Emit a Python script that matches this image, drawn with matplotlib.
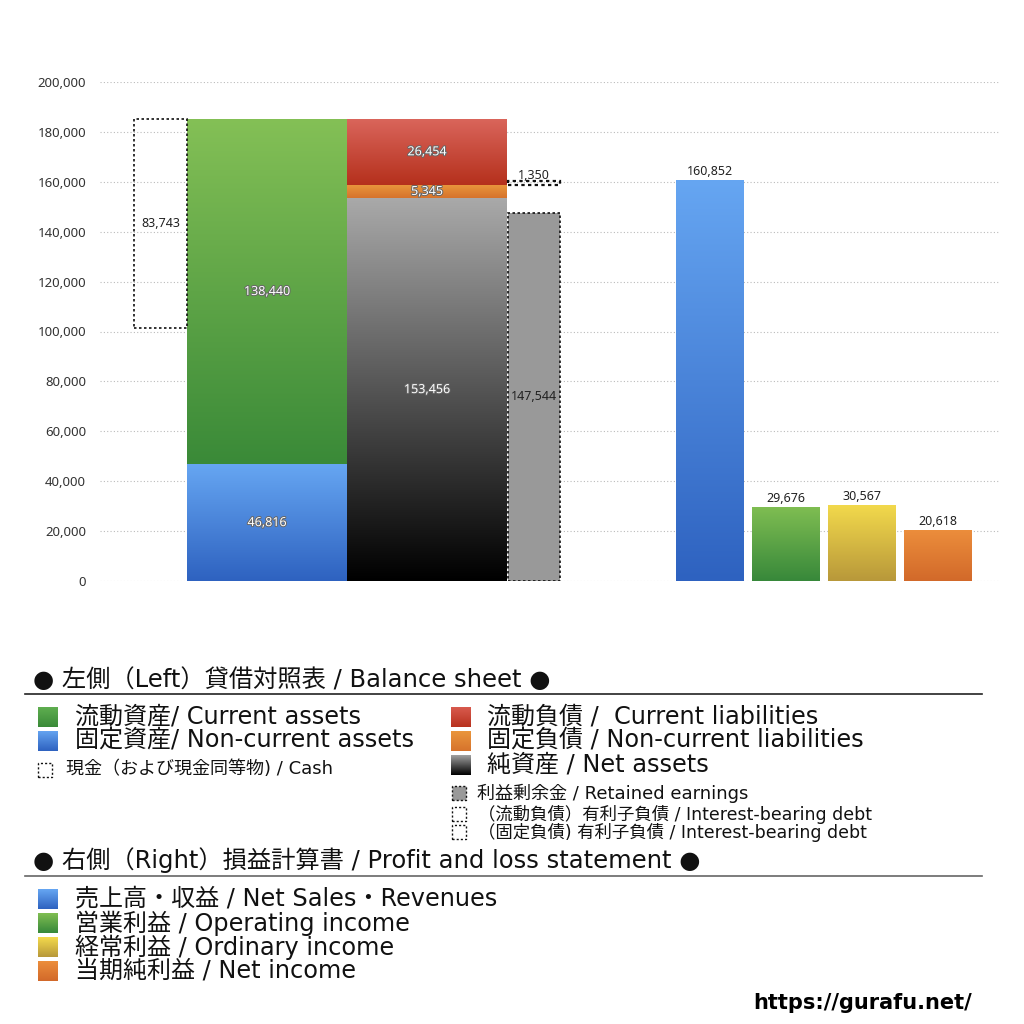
import matplotlib
matplotlib.use("Agg")
import matplotlib.pyplot as plt
import numpy as np
from matplotlib.colors import LinearSegmentedColormap
from matplotlib.patches import Rectangle
import matplotlib.patheffects as pe

plt.rcParams['font.family'] = ['DejaVu Sans', 'Noto Sans CJK JP']

# --- data (balance sheet, left side) ---
non_current_assets = 46816
current_assets = 138440
cash = 83743
net_assets = 153456
non_current_liab = 5345
current_liab = 26454
debt_current = 1350
retained_earnings = 147544

# --- data (profit and loss, right side) ---
pl_names = ["売上高・収益", "営業利益", "経常利益", "当期純利益"]
pl_values = [160852, 29676, 30567, 20618]
pl_top = ["#66a6f2", "#80be52", "#f3da4c", "#ec8e3c"]
pl_bot = ["#2e62c0", "#37883a", "#b8983a", "#d2692a"]

W = 10.24
fig = plt.figure(figsize=(W, W), dpi=100)


def fx(px):
    return px / 1024.0


def fy(py):
    return 1 - py / 1024.0


ax = fig.add_axes([fx(100), fy(581), fx(900), fy(82) - fy(581)])
ax.set_xlim(100, 1000)
ax.set_ylim(0, 200000)
for s in ax.spines.values():
    s.set_visible(False)
ax.tick_params(axis='both', length=0)
ax.set_xticks([])
yt = np.arange(0, 200001, 20000)
ax.set_yticks(yt)
ax.set_yticklabels(["{:,}".format(v) for v in yt], fontsize=9.5, color="#333333",
                   family=['Noto Sans', 'DejaVu Sans'])
ax.tick_params(axis='y', pad=10)
for v in yt:
    ax.axhline(v, color="#bbbbbb", lw=0.8, ls=(0, (1, 2)), zorder=0)


def grad_bar(x, bottom, height, width, c_top, c_bot):
    bars = ax.bar(x, height, width=width, bottom=bottom, align='edge',
                  color='none', edgecolor='none', zorder=2)
    p = bars[0]
    cmap = LinearSegmentedColormap.from_list("g", [c_bot, c_top])
    grad = np.linspace(0, 1, 256).reshape(-1, 1)
    im = ax.imshow(grad, extent=[x, x + width, bottom, bottom + height],
                   origin='lower', aspect='auto', cmap=cmap, zorder=2)
    im.set_clip_path(p)
    return p


def dotted_box(x, bottom, height, width, face='none', lw=1.2):
    ax.bar(x, height, width=width, bottom=bottom, align='edge',
           facecolor=face, edgecolor='#111111', lw=lw, ls=(0, (1.5, 1.5)), zorder=3)


def inner_label(x, y, s):
    ax.text(x, y, s, ha='center', va='center', fontsize=9, color='white',
            family=['Noto Sans', 'DejaVu Sans'], zorder=5,
            path_effects=[pe.withStroke(linewidth=1.4, foreground='#666666')])


def outer_label(x, y, s, va='bottom'):
    ax.text(x, y, s, ha='center', va=va, fontsize=9, color='#222222',
            family=['Noto Sans', 'DejaVu Sans'], zorder=5)


total_assets = non_current_assets + current_assets

# cash box at top of current assets
dotted_box(134, total_assets - cash, cash, 53)
outer_label(160.5, total_assets - cash / 2, "{:,}".format(cash), va='center')

# assets
grad_bar(187, 0, non_current_assets, 160, "#66a6f2", "#2e62c0")
grad_bar(187, non_current_assets, current_assets, 160, "#84c056", "#3a8a38")
inner_label(267, non_current_assets / 2, "{:,}".format(non_current_assets))
inner_label(267, non_current_assets + current_assets / 2, "{:,}".format(current_assets))

# liabilities and net assets
grad_bar(347, 0, net_assets, 160, "#a9a9a9", "#000000")
grad_bar(347, net_assets, non_current_liab, 160, "#ea973c", "#d6732c")
grad_bar(347, net_assets + non_current_liab, current_liab, 160, "#da665c", "#b5301c")
inner_label(427, net_assets / 2, "{:,}".format(net_assets))
inner_label(427, net_assets + non_current_liab / 2, "{:,}".format(non_current_liab))
inner_label(427, net_assets + non_current_liab + current_liab / 2, "{:,}".format(current_liab))

# retained earnings
dotted_box(508, 0, retained_earnings, 52, face='#999999')
outer_label(534, retained_earnings / 2, "{:,}".format(retained_earnings), va='center')

# interest-bearing debt (current)
dotted_box(508, net_assets + non_current_liab, debt_current, 52, lw=1.6)
outer_label(534, net_assets + non_current_liab + debt_current - 200, "{:,}".format(debt_current))

# profit and loss bars
pl_x = [676, 752, 828, 904]
for i in range(len(pl_values)):
    grad_bar(pl_x[i], 0, pl_values[i], 68, pl_top[i], pl_bot[i])
    outer_label(pl_x[i] + 34, pl_values[i] + 600, "{:,}".format(pl_values[i]))

ax.set_xlim(100, 1000)
ax.set_ylim(0, 200000)


# --- legend area ---
def legend_sq(px0, py0, size, c_top, c_bot):
    lax = fig.add_axes([fx(px0), fy(py0 + size), fx(size), fy(py0) - fy(py0 + size)])
    cmap = LinearSegmentedColormap.from_list("l", [c_bot, c_top])
    lax.imshow(np.linspace(0, 1, 64).reshape(-1, 1), origin='lower', aspect='auto', cmap=cmap)
    lax.axis('off')


def legend_dot(px0, py0, size, face='none'):
    fig.patches.append(Rectangle((fx(px0), fy(py0 + size)), fx(size), fy(py0) - fy(py0 + size),
                                 transform=fig.transFigure, facecolor=face, edgecolor='#111111',
                                 lw=1.0, ls=(0, (1.5, 1.5))))


def big_text(px, py, s, size=17.3):
    fig.text(fx(px), fy(py), s, fontsize=size, va='center', ha='left', color='#111111')


big_text(33, 680, "● 左側（Left）貸借対照表 / Balance sheet ●", 17.5)
fig.add_artist(plt.Line2D([fx(25), fx(982)], [fy(694), fy(694)], color='#222222', lw=1.2))

legend_sq(38, 707, 20, "#5fae50", "#3a8a38")
big_text(75, 717, "流動資産/ Current assets")
legend_sq(38, 731, 20, "#64a3f0", "#2e62c0")
big_text(75, 741, "固定資産/ Non-current assets")
legend_dot(38, 763, 14)
big_text(66, 769, "現金（および現金同等物) / Cash", 13)

legend_sq(451, 707, 20, "#d85a4e", "#b8321e")
big_text(487, 717, "流動負債 /  Current liabilities")
legend_sq(451, 731, 20, "#ea963c", "#d6732c")
big_text(487, 741, "固定負債 / Non-current liabilities")
legend_sq(451, 755, 20, "#a0a0a0", "#000000")
big_text(487, 765, "純資産 / Net assets")
legend_dot(452, 786, 14, face='#999999')
big_text(477, 793, "利益剰余金 / Retained earnings", 13)
legend_dot(452, 807, 14)
big_text(478, 814, "（流動負債）有利子負債 / Interest-bearing debt", 12.5)
legend_dot(452, 825, 14)
big_text(478, 833, "（固定負債) 有利子負債 / Interest-bearing debt", 12.5)

big_text(33, 860, "● 右側（Right）損益計算書 / Profit and loss statement ●", 17.5)
fig.add_artist(plt.Line2D([fx(25), fx(982)], [fy(876), fy(876)], color='#666666', lw=1.2))

pl_labels = ["売上高・収益 / Net Sales・Revenues", "営業利益 / Operating income",
             "経常利益 / Ordinary income", "当期純利益 / Net income"]
for i in range(len(pl_labels)):
    legend_sq(38, 889 + 24 * i, 20, pl_top[i], pl_bot[i])
    big_text(75, 899 + 24 * i, pl_labels[i])

fig.text(fx(972), fy(1003), "https://gurafu.net/", fontsize=15, fontweight='bold',
         ha='right', va='center', color='black', family=['DejaVu Sans'])

fig.savefig("out.png", dpi=100)
